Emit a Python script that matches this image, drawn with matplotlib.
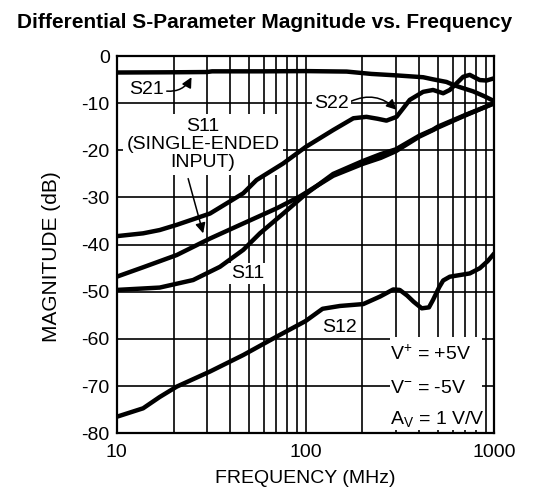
import numpy as np
import matplotlib.pyplot as plt
from matplotlib.patches import Rectangle
from matplotlib.ticker import FixedLocator, NullFormatter

plt.rcParams['font.family'] = ['Liberation Sans', 'DejaVu Sans']
plt.rcParams['mathtext.fontset'] = 'custom'
plt.rcParams['mathtext.rm'] = 'Liberation Sans'
plt.rcParams['mathtext.it'] = 'Liberation Sans:italic'
plt.rcParams['axes.unicode_minus'] = False

# frequency (MHz) / magnitude (dB) pairs for each S-parameter
s21_f = [10, 20, 30, 32, 60, 100, 165, 223, 300, 419, 473, 557, 604, 655, 771, 880, 1000]
s21_db = [-3.5, -3.45, -3.4, -3.25, -3.25, -3.2, -3.3, -3.8, -4.1, -4.5, -4.95, -5.5, -6.1, -6.6, -7.5, -8.5, -9.6]

s22_f = [10, 13.8, 16.9, 20.8, 31.2, 46.8, 55, 76, 100, 140, 179, 210, 240, 268, 303, 330, 356, 419,
         473, 535, 580, 683, 740, 790, 836, 907, 1000]
s22_db = [-38.2, -37.6, -36.9, -35.8, -33.4, -29.1, -26.3, -22.8, -19.3, -15.7, -13.2, -12.9, -13.3,
          -13.7, -12.9, -11.0, -9.3, -7.6, -7.2, -7.9, -7.2, -4.4, -4.0, -4.6, -5.1, -5.2, -4.7]

s11se_f = [10, 13.8, 20.8, 31.2, 46.8, 70.3, 93, 140, 200, 250, 300, 400, 473, 500, 710, 1000]
s11se_db = [-46.8, -44.8, -42.2, -38.7, -35.5, -32.3, -29.8, -25.4, -22.9, -21.6, -20.2, -17.1, -15.7,
            -15.2, -12.5, -10.0]

s11_f = [10, 16.9, 25.4, 35.2, 46.8, 57.3, 76.2, 100, 140, 200, 250, 300, 400, 473, 500, 710, 1000]
s11_db = [-49.6, -49.1, -47.5, -44.7, -41.1, -37.6, -33.4, -29.3, -25.0, -22.3, -20.8, -19.8, -16.9,
          -15.6, -15.0, -12.4, -10.0]

s12_f = [10, 13.8, 16.9, 20.8, 31.2, 46.8, 70.3, 100, 123, 152, 202, 248, 291, 315, 345, 373, 412,
         450, 473, 510, 535, 580, 740, 836, 920, 1000]
s12_db = [-76.5, -74.7, -72.3, -70.1, -66.9, -63.4, -59.5, -56.2, -53.6, -53.0, -52.6, -51.0, -49.5,
          -49.6, -50.8, -52.1, -53.5, -53.3, -51.7, -49.0, -47.6, -46.8, -46.1, -45.0, -43.5, -41.8]

fig = plt.figure(figsize=(5.47, 4.93), dpi=100)
ax = fig.add_axes([0.2133, 0.1211, 0.6907, 0.7653])

lw = 3.2
for f, db in [(s21_f, s21_db), (s22_f, s22_db), (s11se_f, s11se_db), (s11_f, s11_db), (s12_f, s12_db)]:
    ax.plot(f, db, color='black', lw=lw, solid_capstyle='butt', zorder=4)

ax.set_xscale('log')
ax.set_xlim(10, 1000)
ax.set_ylim(-80, 0)
ax.set_yticks(np.arange(-80, 1, 10))
ax.xaxis.set_major_locator(FixedLocator([10, 100, 1000]))
ax.xaxis.set_minor_locator(FixedLocator([20, 30, 40, 50, 60, 70, 80, 90,
                                         200, 300, 400, 500, 600, 700, 800, 900]))
ax.xaxis.set_minor_formatter(NullFormatter())
ax.set_xticklabels(['10', '100', '1000'])
ax.set_axisbelow(True)
ax.grid(which='both', axis='x', color='black', lw=1.2)
ax.grid(which='major', axis='y', color='black', lw=1.2)
ax.tick_params(which='both', length=0, labelsize=14)
ax.tick_params(axis='x', pad=8)
ax.tick_params(axis='y', pad=5)
for sp in ax.spines.values():
    sp.set_linewidth(1.6)
    sp.set_zorder(5)

ax.set_xlabel('FREQUENCY (MHz)', fontsize=14, va='center')
ax.xaxis.set_label_coords(0.5, -0.1185)
ax.set_ylabel('MAGNITUDE (dB)', fontsize=15, va='center')
ax.yaxis.set_label_coords(-0.172, 0.468)
fig.text(0.4845, 0.955, 'Differential S-Parameter Magnitude vs. Frequency',
         ha='center', va='center', fontsize=15, fontweight='bold')

white = dict(facecolor='white', edgecolor='none', pad=1.5)
arrow = dict(arrowstyle='-|>', color='black', lw=1.1, mutation_scale=15, shrinkA=0, shrinkB=0)

ax.annotate('S21', xy=(24.9, -4.5), xytext=(14.4, -7.2), fontsize=14, ha='center', va='center',
            arrowprops=dict(arrow, connectionstyle='arc3,rad=0.35', relpos=(1.0, 0.45)))
ax.annotate('S22', xy=(303, -11.4), xytext=(137, -10.0), fontsize=14, ha='center', va='center',
            bbox=white, zorder=3,
            arrowprops=dict(arrow, connectionstyle='arc3,rad=-0.35', relpos=(1.0, 0.55)))
ax.text(28.7, -18.8, 'S11\n(SINGLE-ENDED\nINPUT)', fontsize=14, ha='center', va='center',
        linespacing=1.1, bbox=dict(facecolor='white', edgecolor='none', pad=2.5), zorder=3)
ax.annotate('', xy=(28.7, -37.6), xytext=(23.9, -26.0), arrowprops=arrow, zorder=4)
ax.text(49.7, -46.1, 'S11', fontsize=14, ha='center', va='center', bbox=white, zorder=3)
ax.text(152, -57.5, 'S12', fontsize=14, ha='center', va='center', bbox=white, zorder=3)

ax.add_patch(Rectangle((279, -79.4), 860 - 279, 19.9, facecolor='white', edgecolor='none', zorder=2.5))
ax.text(281, -63.2, r'V$^{+}$ = +5V', fontsize=14, ha='left', va='center', zorder=3)
ax.text(281, -70.4, r'V$^{-}$ = -5V', fontsize=14, ha='left', va='center', zorder=3)
ax.text(281, -77.0, r'A$_{\rm V}$ = 1 V/V', fontsize=14, ha='left', va='center', zorder=3)

fig.savefig('out.png', dpi=100)
